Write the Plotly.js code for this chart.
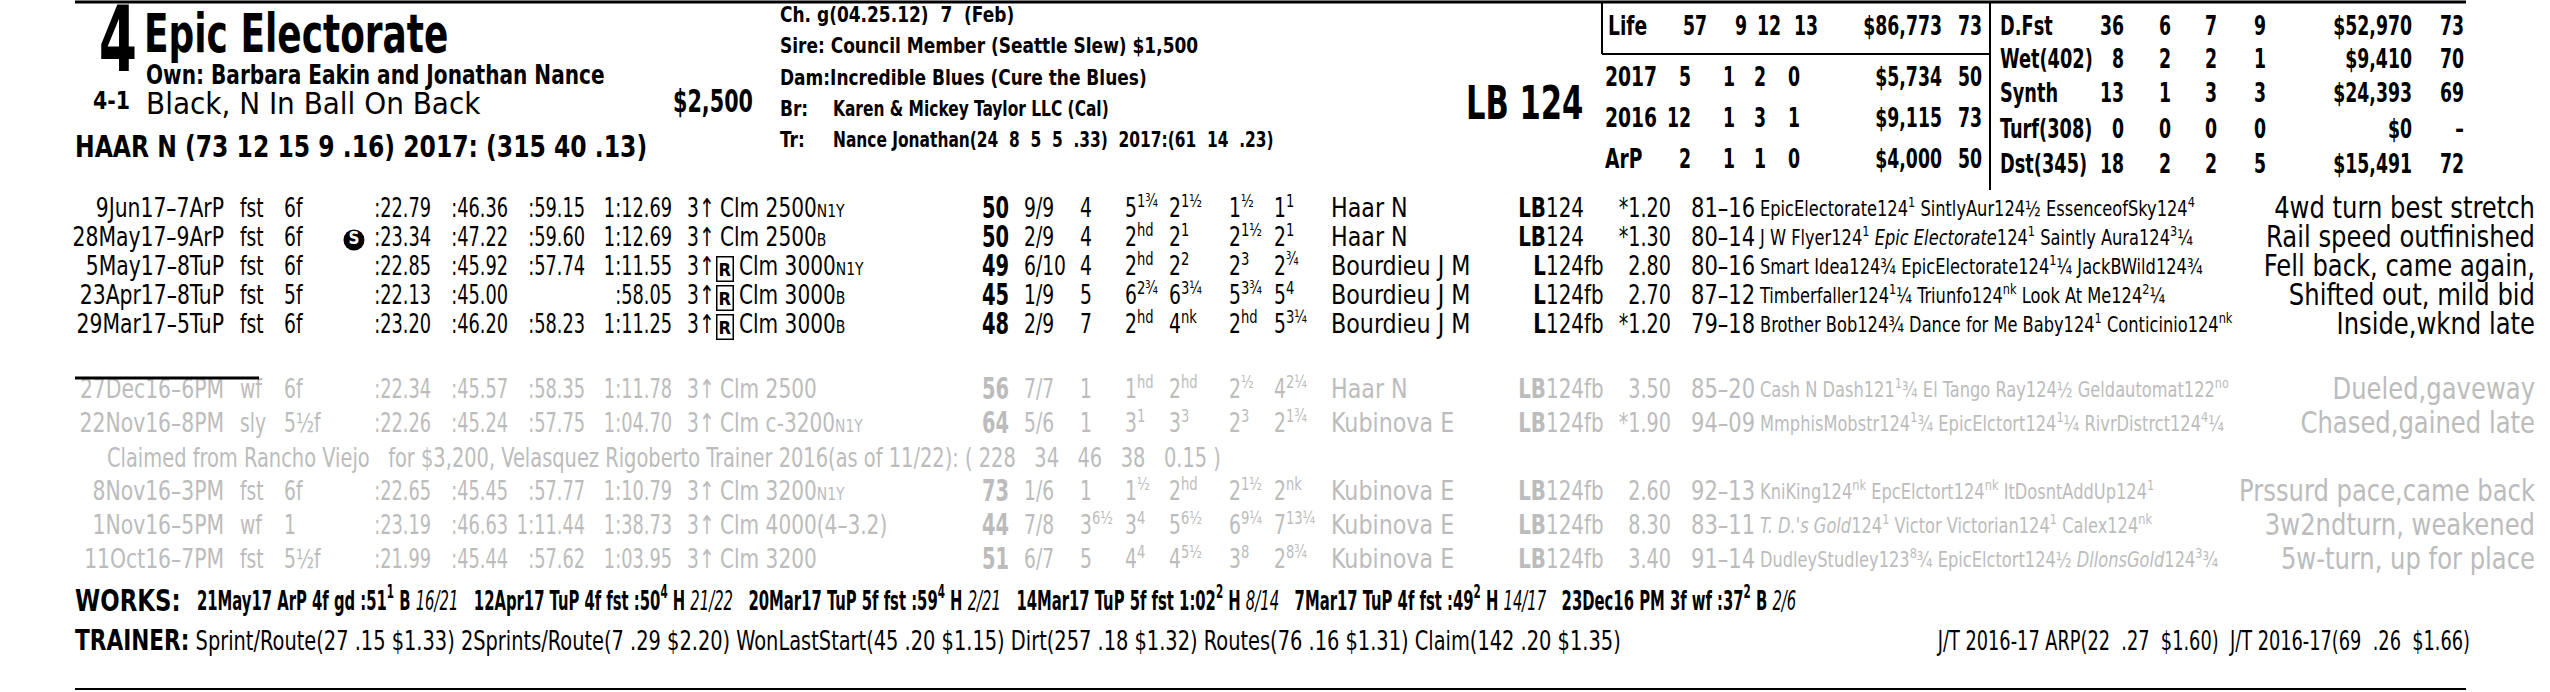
<!DOCTYPE html>
<html>
<head>
<meta charset="utf-8">
<script src="https://cdn.plot.ly/plotly-3.0.1.min.js"></script>
<style>body{margin:0;background:#fff}</style>
</head>
<body>
<div id="chart" style="width:2550px;height:692px"></div>
<script>
const SP = '\u00a0'; // hard space, svg folds plain runs of spaces

// ---- horse header ----
const programNumber = '4';
const morningLine = '4-1';
const horseName = 'Epic Electorate';
const owner = 'Own: Barbara Eakin and Jonathan Nance';
const silks = 'Black, N In Ball On Back';
const claimPrice = '$2,500';
const jockeyLine = 'HAAR N (73 12 15 9 .16) 2017: (315 40 .13)';
const pedigreeLabels = ['', 'Sire: ', 'Dam:', 'Br:', 'Tr:'];
const pedigreeValues = [
  'Ch. g(04.25.12)' + SP + ' 7' + SP + ' (Feb)',
  'Council Member (Seattle Slew) $1,500',
  'Incredible Blues (Cure the Blues)',
  'Karen &amp; Mickey Taylor LLC (Cal)',
  'Nance Jonathan(24' + SP + ' 8' + SP + ' 5' + SP + ' 5' + SP + ' .33)' + SP + ' 2017:(61' + SP + ' 14' + SP + ' .23)'
];
const medWeight = 'LB 124';

// ---- record boxes ----
const recLabels = ['Life', '2017', '2016', 'ArP'];
const recStarts = ['57', '5', '12', '2'];
const recWins = ['9', '1', '1', '1'];
const recPlaces = ['12', '2', '3', '1'];
const recShows = ['13', '0', '1', '0'];
const recEarnings = ['$86,773', '$5,734', '$9,115', '$4,000'];
const recSpeed = ['73', '50', '73', '50'];

const surfLabels = ['D.Fst', 'Wet(402)', 'Synth', 'Turf(308)', 'Dst(345)'];
const surfStarts = ['36', '8', '13', '0', '18'];
const surfWins = ['6', '2', '1', '0', '2'];
const surfPlaces = ['7', '2', '3', '0', '2'];
const surfShows = ['9', '1', '3', '0', '5'];
const surfEarnings = ['$52,970', '$9,410', '$24,393', '$0', '$15,491'];
const surfSpeed = ['73', '70', '69', '–', '72'];

// ---- past performance lines ----
const ppDate = ['9Jun17–7ArP', '28May17–9ArP', '5May17–8TuP', '23Apr17–8TuP', '29Mar17–5TuP',
  '27Dec16–6PM', '22Nov16–8PM', '8Nov16–3PM', '1Nov16–5PM', '11Oct16–7PM'];
const ppCond = ['fst', 'fst', 'fst', 'fst', 'fst', 'wf', 'sly', 'fst', 'wf', 'fst'];
const ppDist = ['6f', '6f', '6f', '5f', '6f', '6f', '5½f', '6f', '1', '5½f'];
const ppStateBred = [false, true, false, false, false, false, false, false, false, false];
const ppFrac1 = [':22.79', ':23.34', ':22.85', ':22.13', ':23.20', ':22.34', ':22.26', ':22.65', ':23.19', ':21.99'];
const ppFrac2 = [':46.36', ':47.22', ':45.92', ':45.00', ':46.20', ':45.57', ':45.24', ':45.45', ':46.63', ':45.44'];
const ppFrac3 = [':59.15', ':59.60', ':57.74', '', ':58.23', ':58.35', ':57.75', ':57.77', '1:11.44', ':57.62'];
const ppFinal = ['1:12.69', '1:12.69', '1:11.55', ':58.05', '1:11.25', '1:11.78', '1:04.70', '1:10.79', '1:38.73', '1:03.95'];
const ppRestricted = [false, false, true, true, true, false, false, false, false, false];
const ppRace = ['Clm 2500', 'Clm 2500', 'Clm 3000', 'Clm 3000', 'Clm 3000',
  'Clm 2500', 'Clm c-3200', 'Clm 3200', 'Clm 4000(4–3.2)', 'Clm 3200'];
const ppRaceCond = ['N1Y', 'B', 'N1Y', 'B', 'B', '', 'N1Y', 'N1Y', '', ''];
const ppSpeed = ['50', '50', '49', '45', '48', '56', '64', '73', '44', '51'];
const ppPost = ['9/9', '2/9', '6/10', '1/9', '2/9', '7/7', '5/6', '1/6', '7/8', '6/7'];
const ppStart = ['4', '4', '4', '5', '7', '1', '1', '1', '3<sup>6½</sup>', '5'];
const ppCall1 = ['5<sup>1¾</sup>', '2<sup>hd</sup>', '2<sup>hd</sup>', '6<sup>2¾</sup>', '2<sup>hd</sup>',
  '1<sup>hd</sup>', '3<sup>1</sup>', '1<sup>½</sup>', '3<sup>4</sup>', '4<sup>4</sup>'];
const ppCall2 = ['2<sup>1½</sup>', '2<sup>1</sup>', '2<sup>2</sup>', '6<sup>3¼</sup>', '4<sup>nk</sup>',
  '2<sup>hd</sup>', '3<sup>3</sup>', '2<sup>hd</sup>', '5<sup>6½</sup>', '4<sup>5½</sup>'];
const ppStretch = ['1<sup>½</sup>', '2<sup>1½</sup>', '2<sup>3</sup>', '5<sup>3¾</sup>', '2<sup>hd</sup>',
  '2<sup>½</sup>', '2<sup>3</sup>', '2<sup>1½</sup>', '6<sup>9¼</sup>', '3<sup>8</sup>'];
const ppFinish = ['1<sup>1</sup>', '2<sup>1</sup>', '2<sup>¾</sup>', '5<sup>4</sup>', '5<sup>3¼</sup>',
  '4<sup>2¼</sup>', '2<sup>1¾</sup>', '2<sup>nk</sup>', '7<sup>13¼</sup>', '2<sup>8¾</sup>'];
const ppJockey = ['Haar N', 'Haar N', 'Bourdieu J M', 'Bourdieu J M', 'Bourdieu J M',
  'Haar N', 'Kubinova E', 'Kubinova E', 'Kubinova E', 'Kubinova E'];
const ppMed = ['LB', 'LB', 'L', 'L', 'L', 'LB', 'LB', 'LB', 'LB', 'LB'];
const ppWeight = ['124', '124', '124fb', '124fb', '124fb', '124fb', '124fb', '124fb', '124fb', '124fb'];
const ppOdds = ['*1.20', '*1.30', '2.80', '2.70', '*1.20', '3.50', '*1.90', '2.60', '8.30', '3.40'];
const ppPace = ['81–16', '80–14', '80–16', '87–12', '79–18', '85–20', '94–09', '92–13', '83–11', '91–14'];
const ppComp = [
  'EpicElectorate124<sup>1</sup> SintlyAur124½ EssenceofSky124<sup>4</sup>',
  'J W Flyer124<sup>1</sup> <i>Epic Electorate</i>124<sup>1</sup> Saintly Aura124<sup>3</sup>¼',
  'Smart Idea124¾ EpicElectorate124<sup>1</sup>¼ JackBWild124¾',
  'Timberfaller124<sup>1</sup>¼ Triunfo124<sup>nk</sup> Look At Me124<sup>2</sup>¼',
  'Brother Bob124¾ Dance for Me Baby124<sup>1</sup> Conticinio124<sup>nk</sup>',
  'Cash N Dash121<sup>1</sup>¾ El Tango Ray124½ Geldautomat122<sup>no</sup>',
  'MmphisMobstr124<sup>1</sup>¾ EpicElctort124<sup>1</sup>¼ RivrDistrct124<sup>4</sup>¼',
  'KniKing124<sup>nk</sup> EpcElctort124<sup>nk</sup> ItDosntAddUp124<sup>1</sup>',
  '<i>T. D.\'s Gold</i>124<sup>1</sup> Victor Victorian124<sup>1</sup> Calex124<sup>nk</sup>',
  'DudleyStudley123<sup>8</sup>¾ EpicElctort124½ <i>DllonsGold</i>124<sup>3</sup>¾'
];
const ppComment = ['4wd turn best stretch', 'Rail speed outfinished', 'Fell back, came again,',
  'Shifted out, mild bid', 'Inside,wknd late', 'Dueled,gaveway', 'Chased,gained late',
  'Prssurd pace,came back', '3w2ndturn, weakened', '5w-turn, up for place'];
const ppCurrent = [true, true, true, true, true, false, false, false, false, false];
const claimFrom = 'Rancho Viejo';
const claimFor = '$3,200';
const claimTrainer = 'Velasquez Rigoberto';
const claimStats = ['228', '34', '46', '38', '0.15'];

// ---- workouts and trainer stats ----
const workDate = ['21May17', '12Apr17', '20Mar17', '14Mar17', '7Mar17', '23Dec16'];
const workTrack = ['ArP', 'TuP', 'TuP', 'TuP', 'TuP', 'PM'];
const workDist = ['4f', '4f', '5f', '5f', '4f', '3f'];
const workCond = ['gd', 'fst', 'fst', 'fst', 'fst', 'wf'];
const workTime = [':51<sup>1</sup>', ':50<sup>4</sup>', ':59<sup>4</sup>', '1:02<sup>2</sup>', ':49<sup>2</sup>', ':37<sup>2</sup>'];
const workType = ['B', 'H', 'H', 'H', 'H', 'B'];
const workRank = ['16/21', '21/22', '2/21', '8/14', '14/17', '2/6'];

const trainerCat = ['Sprint/Route', '2Sprints/Route', 'WonLastStart', 'Dirt', 'Routes', 'Claim'];
const trainerStarts = ['27', '7', '45', '257', '76', '142'];
const trainerPct = ['.15', '.29', '.20', '.18', '.16', '.20'];
const trainerRoi = ['$1.33', '$2.20', '$1.15', '$1.32', '$1.31', '$1.35'];
const jtLabel = ['J/T 2016-17 ARP', 'J/T 2016-17'];
const jtStarts = ['22', '69'];
const jtPct = ['.27', '.26'];
const jtRoi = ['$1.60', '$1.66'];

// ---- layout constants (pixels) ----
const FONT = 'DejaVu Sans Condensed, Liberation Sans Narrow, DejaVu Sans, sans-serif';
const INK = '#000000';
const GRAY = '#bcbcbc';
const rowY = [211, 240, 269, 298, 327, 392, 426, 494, 528, 562];
const CLAIM_Y = 460;
const recY = [29, 80, 121, 162];
const surfY = [29, 62, 96, 132, 167];
const PP = 26;
const NUM_SX = 0.76; // horizontal squeeze: the card uses a condensed face

const rowColor = ppCurrent.map((c) => (c ? INK : GRAY));

function col(xs, ys, texts, pos, size, opts) {
  opts = opts || {};
  return {
    type: 'scatter',
    mode: 'text',
    x: Array.isArray(xs) ? xs : ys.map(() => xs),
    y: ys,
    text: texts,
    textposition: pos,
    textfont: {
      family: FONT,
      size: size,
      color: opts.color || INK,
      weight: opts.weight || 'normal',
    },
    meta: { sx: opts.sx || NUM_SX },
    hoverinfo: 'skip',
    cliponaxis: false,
    showlegend: false,
  };
}

var traces = [];

/**
 * HEADER
 */
traces.push(col([118], [48], [programNumber], 'middle center', 90, { weight: 700, sx: 0.68 }));
traces.push(col([93], [103], [morningLine], 'middle right', 24, { weight: 700, sx: 0.95 }));
traces.push(col([144], [38], [horseName], 'middle right', 54, { weight: 700, sx: 0.74 }));
traces.push(col([146], [78], [owner], 'middle right', 26, { weight: 700, sx: 0.86 }));
traces.push(col([146], [106], [silks], 'middle right', 31, { sx: 1.0 }));
traces.push(col([753], [104], [claimPrice], 'middle left', 32, { weight: 700, sx: 0.72 }));
traces.push(col([75], [150], [jockeyLine], 'middle right', 30, { weight: 700, sx: 0.87 }));

var pedY = [16, 48, 80, 111, 142];
var pedFirst = pedigreeLabels.map((l, i) => (i === 0 ? pedigreeValues[0] : l + (i < 3 ? pedigreeValues[i] : '')));
traces.push(col(780, pedY, pedFirst, 'middle right', 22, { weight: 700, sx: 0.86 }));
traces.push(col(833, pedY.slice(3), pedigreeValues.slice(3), 'middle right', 22, { weight: 700, sx: 0.78 }));
traces.push(col([1466], [108], [medWeight], 'middle right', 46, { weight: 700, sx: 0.74 }));

/**
 * RECORD BOXES
 */
traces.push(col([1608, 1605, 1605, 1605], recY, recLabels, 'middle right', 26, { weight: 700, sx: 0.8 }));
var recCols = [
  [recStarts, [1707, 1691, 1691, 1691]],
  [recWins, [1747, 1735, 1735, 1735]],
  [recPlaces, [1781, 1766, 1766, 1766]],
  [recShows, [1818, 1800, 1800, 1800]],
  [recEarnings, [1942, 1942, 1942, 1942]],
  [recSpeed, [1982, 1982, 1982, 1982]],
];
recCols.forEach(([vals, xs]) => traces.push(col(xs, recY, vals, 'middle left', 26, { weight: 700, sx: 0.74 })));

traces.push(col(2000, surfY, surfLabels, 'middle right', 26, { weight: 700, sx: 0.76 }));
[[surfStarts, 2124], [surfWins, 2171], [surfPlaces, 2217], [surfShows, 2266], [surfEarnings, 2412], [surfSpeed, 2464]]
  .forEach(([vals, x]) => traces.push(col(x, surfY, vals, 'middle left', 26, { weight: 700, sx: 0.74 })));

/**
 * PAST PERFORMANCES
 */
traces.push(col(224, rowY, ppDate, 'middle left', PP, { color: rowColor, sx: 0.87 }));
traces.push(col(240, rowY, ppCond, 'middle right', PP, { color: rowColor, sx: 0.8 }));
traces.push(col(284, rowY, ppDist, 'middle right', PP, { color: rowColor, sx: 0.8 }));
traces.push(col(431, rowY, ppFrac1, 'middle left', PP, { color: rowColor }));
traces.push(col(508, rowY, ppFrac2, 'middle left', PP, { color: rowColor }));
traces.push(col(585, rowY, ppFrac3, 'middle left', PP, { color: rowColor }));
traces.push(col(672, rowY, ppFinal, 'middle left', PP, { color: rowColor }));
traces.push(col(687, rowY, rowY.map(() => '3↑'), 'middle right', PP, { color: rowColor, sx: 0.8 }));
traces.push(col(ppRestricted.map((r) => (r ? 739 : 720)), rowY,
  ppRace.map((r, i) => r + (ppRaceCond[i] ? '<span style="font-size:18px">' + ppRaceCond[i] + '</span>' : '')),
  'middle right', PP, { color: rowColor, sx: 0.86 }));
traces.push(col(982, rowY, ppSpeed, 'middle right', 30, { color: rowColor, weight: 700, sx: 0.72 }));
traces.push(col(1024, rowY, ppPost, 'middle right', PP, { color: rowColor, sx: 0.8 }));
traces.push(col(1080, rowY, ppStart, 'middle right', PP, { color: rowColor, sx: 0.8 }));
traces.push(col(1125, rowY, ppCall1, 'middle right', PP, { color: rowColor, sx: 0.8 }));
traces.push(col(1169, rowY, ppCall2, 'middle right', PP, { color: rowColor, sx: 0.8 }));
traces.push(col(1229, rowY, ppStretch, 'middle right', PP, { color: rowColor, sx: 0.8 }));
traces.push(col(1274, rowY, ppFinish, 'middle right', PP, { color: rowColor, sx: 0.8 }));
traces.push(col(1331, rowY, ppJockey, 'middle right', PP, { color: rowColor, sx: 0.95 }));
traces.push(col(1546, rowY, ppMed, 'middle left', PP, { color: rowColor, weight: 700, sx: 0.85 }));
traces.push(col(1546, rowY, ppWeight, 'middle right', PP, { color: rowColor, sx: 0.85 }));
traces.push(col(1671, rowY, ppOdds, 'middle left', PP, { color: rowColor, sx: 0.82 }));
traces.push(col(1691, rowY, ppPace, 'middle right', PP, { color: rowColor, sx: 0.9 }));
traces.push(col(1760, rowY, ppComp, 'middle right', 21, { color: rowColor, sx: 0.86 }));
traces.push(col(2535, rowY, ppComment, 'middle left', 30, { color: rowColor, sx: 0.9 }));

var claimText = 'Claimed from ' + claimFrom + SP + SP + ' for ' + claimFor + ', ' + claimTrainer +
  ' Trainer 2016(as of 11/22): ( ' + claimStats.join(SP + SP + ' ') + ' )';
traces.push(col([107], [CLAIM_Y], [claimText], 'middle right', 27, { color: GRAY, sx: 0.8 }));

/**
 * WORKS + TRAINER
 */
traces.push(col([75], [603], ['WORKS:'], 'middle right', 31, { weight: 700, sx: 0.82 }));
var worksText = workDate
  .map((d, i) => d + ' ' + workTrack[i] + ' ' + workDist[i] + ' ' + workCond[i] + ' ' + workTime[i] + ' ' + workType[i] +
    ' <i style="font-weight:normal">' + workRank[i] + '</i>')
  .join(SP + SP + SP);
traces.push(col([197], [603], [worksText], 'middle right', 27, { weight: 700, sx: 0.61 }));

var trainerText = '<b style="font-size:29px">TRAINER:</b> ' + trainerCat
  .map((c, i) => c + '(' + trainerStarts[i] + ' ' + trainerPct[i] + ' ' + trainerRoi[i] + ')')
  .join(' ');
traces.push(col([75], [644], [trainerText], 'middle right', 26, { sx: 0.83 }));

var jtText = jtLabel.map((l, i) => l + '(' + jtStarts[i] + SP + ' ' + jtPct[i] + SP + ' ' + jtRoi[i] + ')').join(SP + ' ');
traces.push(col([2470], [644], [jtText], 'middle left', 26, { sx: 0.76 }));

// state-bred marker (its text is not squeezed)
var sbRows = rowY.filter((y, i) => ppStateBred[i]);
traces.push({
  type: 'scatter',
  mode: 'markers+text',
  x: sbRows.map(() => 354),
  y: sbRows,
  text: sbRows.map(() => 'S'),
  textposition: 'middle center',
  textfont: { family: FONT, size: 17, color: '#ffffff', weight: 700 },
  marker: { symbol: 'circle', size: 21, color: INK },
  meta: { sx: 1 },
  hoverinfo: 'skip',
  showlegend: false,
});

var annotations = rowY
  .filter((y, i) => ppRestricted[i])
  .map((y) => ({
    x: 716, y: y, xref: 'x', yref: 'y', xanchor: 'left', yanchor: 'middle',
    text: 'R', showarrow: false,
    font: { family: FONT, size: 18, color: INK, weight: 700 },
    bordercolor: INK, borderwidth: 1.5, borderpad: 1,
  }));

var line = (x0, y0, x1, y1, w) => ({ type: 'line', xref: 'x', yref: 'y', x0, y0, x1, y1, line: { color: INK, width: w || 2 } });

var layout = {
  width: 2550,
  height: 692,
  margin: { l: 0, r: 0, t: 0, b: 0 },
  paper_bgcolor: '#ffffff',
  plot_bgcolor: '#ffffff',
  xaxis: { range: [0, 2550], visible: false, fixedrange: true },
  yaxis: { range: [692, 0], visible: false, fixedrange: true },
  showlegend: false,
  hovermode: false,
  annotations: annotations,
  shapes: [
    line(75, 2, 2466, 2, 3),
    line(1602, 2, 1602, 54),
    line(1602, 54, 1990, 54),
    line(1990, 2, 1990, 190),
    line(75, 378, 259, 378, 3),
    line(75, 689, 2466, 689, 2),
  ],
};

// squeeze each text horizontally about its own anchor to mimic the condensed card face
function squeeze(gd) {
  gd.querySelectorAll('.scatterlayer .trace').forEach((g, i) => {
    var sx = (traces[i] && traces[i].meta && traces[i].meta.sx) || 1;
    if (sx === 1) return;
    g.querySelectorAll('text').forEach((t) => {
      var x = parseFloat(t.getAttribute('x')) || 0;
      t.setAttribute('transform', 'translate(' + x * (1 - sx) + ',0) scale(' + sx + ',1)');
    });
  });
}

Plotly.newPlot('chart', traces, layout, { staticPlot: true }).then(squeeze);
</script>
</body>
</html>
